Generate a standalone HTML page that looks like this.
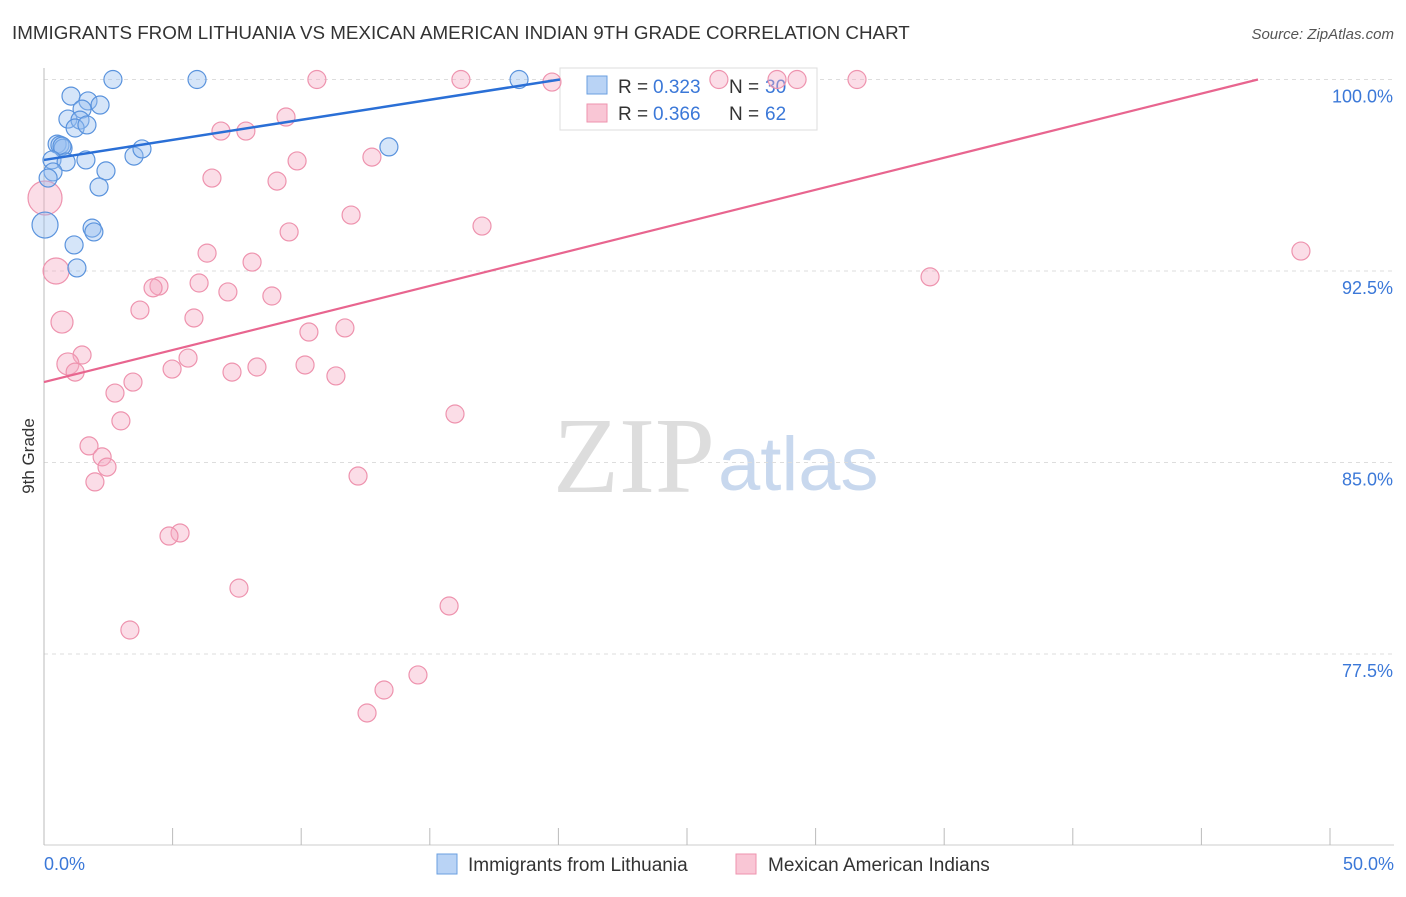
<!DOCTYPE html>
<html><head><meta charset="utf-8"><style>
body{margin:0;background:#fff;font-family:"Liberation Sans",sans-serif}
</style></head><body>
<svg width="1406" height="892" xmlns="http://www.w3.org/2000/svg" id="svg">
<text x="12" y="39" font-size="18.8" fill="#333">IMMIGRANTS FROM LITHUANIA VS MEXICAN AMERICAN INDIAN 9TH GRADE CORRELATION CHART</text>
<text x="1394" y="39" font-size="15" fill="#555" font-style="italic" text-anchor="end">Source: ZipAtlas.com</text>
<text x="34" y="456" font-size="17" fill="#333" transform="rotate(-90 34 456)" text-anchor="middle">9th Grade</text>
<text x="553" y="492" font-size="108" fill="#ddd" font-family="Liberation Serif">ZIP</text>
<text x="718" y="490" font-size="76" fill="#c8d8ee">atlas</text>
<g id="grid"></g><g id="axes"></g>
<g>
<rect x="560" y="68" width="257" height="62" fill="#fff" stroke="#ddd"/>
<rect x="587" y="76" width="20" height="18" fill="#b9d3f5" stroke="#6a9fe0"/>
<rect x="587" y="104" width="20" height="18" fill="#f9c6d5" stroke="#ee93ae"/>
<text y="93" font-size="19" fill="#333"><tspan x="618">R =</tspan><tspan x="653" fill="#3b78d8">0.323</tspan><tspan x="729">N =</tspan><tspan x="765" fill="#3b78d8">30</tspan></text>
<text y="120" font-size="19" fill="#333"><tspan x="618">R =</tspan><tspan x="653" fill="#3b78d8">0.366</tspan><tspan x="729">N =</tspan><tspan x="765" fill="#3b78d8">62</tspan></text>
</g>
<g id="pts"></g><g id="trend"></g>
<g>
<rect x="437" y="854" width="20" height="20" fill="#b9d3f5" stroke="#6a9fe0"/>
<text x="468" y="871" font-size="19" fill="#333">Immigrants from Lithuania</text>
<rect x="736" y="854" width="20" height="20" fill="#f9c6d5" stroke="#ee93ae"/>
<text x="768" y="871" font-size="19" fill="#333">Mexican American Indians</text>
</g>
</svg>
<script>
const yTicks=[100,92.5,85,77.5];
const yTickLabels=["100.0%","92.5%","85.0%","77.5%"];
const xTickLabels=["0.0%","50.0%"];
const blueX=[2.68,5.95,18.47,1.05,1.71,2.18,1.48,0.93,1.40,1.21,1.67,0.51,0.62,0.74,0.70,0.31,0.86,1.63,3.50,3.81,2.41,0.35,2.14,0.16,1.87,1.94,1.17,1.28,13.41,0.04];
const blueY=[100,100,100,99.35,99.16,99.0,98.84,98.45,98.41,98.10,98.22,97.47,97.43,97.31,97.39,96.85,96.77,96.85,97.0,97.28,96.42,96.38,95.79,96.14,94.18,94.03,93.52,92.62,97.36,94.30];
const blueR=[9,9,9,9,9,9,9,9,9,9,9,9,9,9,9,9,9,9,9,9,9,9,9,9,9,9,9,9,9,13];
const pinkX=[10.61,16.21,19.75,26.24,28.50,29.28,31.61,9.41,6.88,7.85,12.75,9.84,6.53,9.06,11.94,17.03,9.53,0.04,0.47,6.34,8.09,48.87,34.45,6.03,4.47,4.24,7.15,8.86,0.70,3.73,5.83,11.70,10.30,1.48,5.60,0.93,1.21,4.98,7.31,8.28,10.15,11.35,3.46,2.76,2.99,15.98,1.75,2.26,2.45,1.98,12.21,5.29,4.86,7.58,15.75,3.34,14.54,13.22,12.56];
const pinkY=[100,100,99.90,100,100,100,100,98.53,97.98,97.98,96.96,96.81,96.14,96.02,94.69,94.26,94.03,95.36,92.50,93.20,92.85,93.28,92.27,92.03,91.91,91.84,91.68,91.52,90.50,90.97,90.66,90.27,90.11,89.21,89.09,88.86,88.54,88.66,88.54,88.74,88.82,88.39,88.15,87.72,86.63,86.90,85.65,85.22,84.82,84.24,84.47,82.24,82.12,80.08,79.38,78.44,76.68,76.09,75.19];
const pinkR=[9,9,9,9,9,9,9,9,9,9,9,9,9,9,9,9,9,17,13,9,9,9,9,9,9,9,9,9,11,9,9,9,9,9,9,11,9,9,9,9,9,9,9,9,9,9,9,9,9,9,9,9,9,9,9,9,9,9,9];
const blueTrend=[[0,96.85],[20.06,100]];
const pinkTrend=[[0,88.15],[47.2,100]];
const NS="http://www.w3.org/2000/svg";
const xs=v=>44+v/50*1286;
const ys=v=>79.5+(100-v)/7.5*191.5;
function mk(parent,tag,attrs){const e=document.createElementNS(NS,tag);for(const k in attrs)e.setAttribute(k,attrs[k]);document.getElementById(parent).appendChild(e);return e;}
yTicks.forEach((t,i)=>{
 const l=mk('grid','line',{x1:44,x2:1394,y1:ys(t),y2:ys(t),stroke:'#ddd','stroke-dasharray':'4,4'});
 
 
 const tx=mk('grid','text',{x:1393,y:ys(t)+23,'font-size':18,fill:'#3b78d8','text-anchor':'end'});
 tx.textContent=yTickLabels[i];
 
 
});
mk('axes','line',{x1:44,x2:44,y1:68,y2:845,stroke:'#bbb'});
mk('axes','line',{x1:44,x2:1394,y1:845,y2:845,stroke:'#ccc'});
for(let i=0;i<=10;i++){const x=xs(i*5);const t=mk('axes','line',{x1:x,x2:x,y1:828,y2:845,stroke:'#bbb'});
 
 }
const x0=mk('axes','text',{x:44,y:870,'font-size':18,fill:'#3b78d8'});x0.textContent=xTickLabels[0];


const x1=mk('axes','text',{x:1394,y:870,'font-size':18,fill:'#3b78d8','text-anchor':'end'});x1.textContent=xTickLabels[1];


pinkX.forEach((v,i)=>{const c=mk('pts','circle',{cx:xs(v),cy:ys(pinkY[i]),r:pinkR[i],fill:'rgba(246,170,195,0.4)',stroke:'#ee93ae','stroke-width':1.2});
 
 });
blueX.forEach((v,i)=>{const c=mk('pts','circle',{cx:xs(v),cy:ys(blueY[i]),r:blueR[i],fill:'rgba(150,190,240,0.4)',stroke:'#5a93dd','stroke-width':1.2});
 
 });
const bl=mk('trend','line',{x1:xs(blueTrend[0][0]),y1:ys(blueTrend[0][1]),x2:xs(blueTrend[1][0]),y2:ys(blueTrend[1][1]),stroke:'#2a6fd6','stroke-width':2.5});


const pl=mk('trend','line',{x1:xs(pinkTrend[0][0]),y1:ys(pinkTrend[0][1]),x2:xs(pinkTrend[1][0]),y2:ys(pinkTrend[1][1]),stroke:'#e8658f','stroke-width':2.2});


</script>
</body></html>
